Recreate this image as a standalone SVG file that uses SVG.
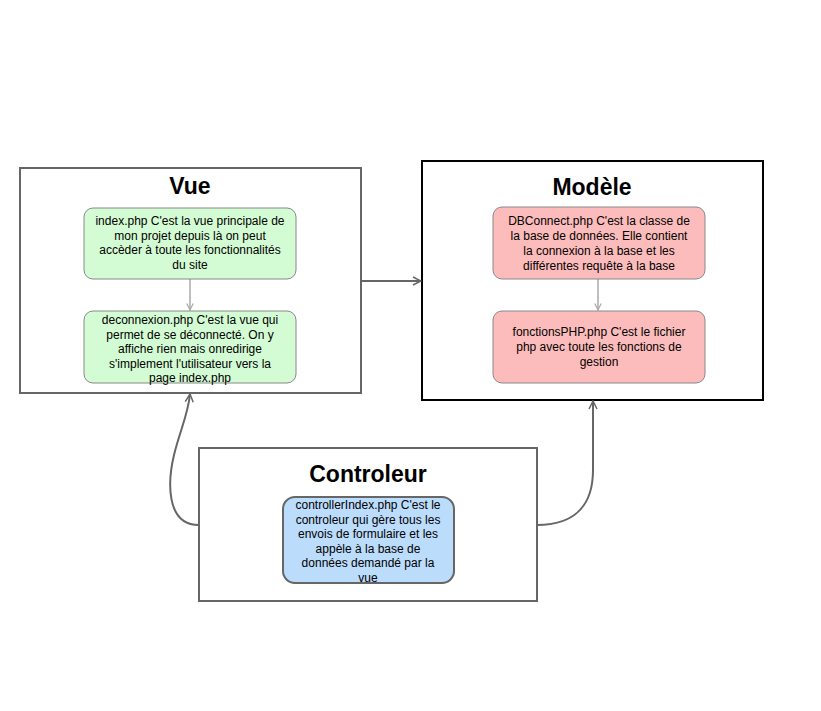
<svg xmlns="http://www.w3.org/2000/svg" width="821" height="711" viewBox="0 0 821 711">
<defs>
<style>
.title{font-family:"Liberation Sans",Arial,sans-serif;font-weight:bold;font-size:23px;fill:#000;text-anchor:middle}
.t{font-family:"Liberation Sans",Arial,sans-serif;font-size:12px;fill:#000;text-anchor:middle}
.frame{fill:#fff;stroke:#666;stroke-width:2}
.green{fill:#d4fcd4;stroke:#888;stroke-width:1}
.red{fill:#fcbcbc;stroke:#888;stroke-width:1}
.blue{fill:#bcdcfc;stroke:#666;stroke-width:2}
.inner{fill:none;stroke:#aaa;stroke-width:1.5}
.outer{fill:none;stroke:#666;stroke-width:2}
</style>
<marker id="ah" viewBox="0 0 10 10" refX="9" refY="5" markerWidth="10" markerHeight="10" markerUnits="userSpaceOnUse" orient="auto">
<path d="M1,1 L9,5 L1,9" fill="none" stroke="#666" stroke-width="1.5"/>
</marker>
<marker id="ahl" viewBox="0 0 10 10" refX="9" refY="5" markerWidth="8" markerHeight="8" markerUnits="userSpaceOnUse" orient="auto">
<path d="M1,1 L9,5 L1,9" fill="none" stroke="#aaa" stroke-width="1.5"/>
</marker>
</defs>
<rect width="821" height="711" fill="#fff"/>
<g id="vue">
<rect class="frame" x="20" y="168" width="341" height="225"/>
<text class="title" x="190" y="194">Vue</text>
</g>
<g id="modele">
<rect x="422" y="161" width="341" height="239" fill="#fff" stroke="#000" stroke-width="2"/>
<text class="title" x="592" y="195">Modèle</text>
</g>
<g id="controleur">
<rect class="frame" x="199" y="448" width="338" height="153"/>
<text class="title" x="368" y="482">Controleur</text>
</g>
<g id="connectors">
<line class="inner" x1="190" y1="279" x2="190" y2="310" marker-end="url(#ahl)"/>
<line class="inner" x1="598" y1="279" x2="598" y2="310" marker-end="url(#ahl)"/>
<line class="outer" x1="361" y1="281" x2="421" y2="281" marker-end="url(#ah)"/>
<path class="outer" d="M199,525 C165,525 168,480 174,455 C180,430 188,415 190,394" marker-end="url(#ah)"/>
<path class="outer" d="M537,525 C575,525 593,505 593,470 L593,401" marker-end="url(#ah)"/>
</g>
<g id="index">
<rect class="green" x="84" y="208" width="212" height="71" rx="9"/>
<text class="t" x="190"><tspan x="190" y="225">index.php C'est la vue principale de</tspan><tspan x="190" y="239.5">mon projet depuis là on peut</tspan><tspan x="190" y="254">accèder à toute les fonctionnalités</tspan><tspan x="190" y="268.5">du site</tspan></text>
</g>
<g id="deconnexion">
<rect class="green" x="84" y="311" width="212" height="72" rx="9"/>
<text class="t" x="190"><tspan x="190" y="324">deconnexion.php C'est la vue qui</tspan><tspan x="190" y="338.5">permet de se déconnecté. On y</tspan><tspan x="190" y="353">affiche rien mais onredirige</tspan><tspan x="190" y="367.5">s'implement l'utilisateur vers la</tspan><tspan x="190" y="382">page index.php</tspan></text>
</g>
<g id="dbconnect">
<rect class="red" x="493" y="207" width="212" height="72" rx="9"/>
<text class="t" x="599"><tspan x="599" y="225">DBConnect.php C'est la classe de</tspan><tspan x="599" y="240">la base de données. Elle contient</tspan><tspan x="599" y="255">la connexion à la base et les</tspan><tspan x="599" y="270">différentes requête à la base</tspan></text>
</g>
<g id="fonctions">
<rect class="red" x="493" y="311" width="212" height="72" rx="9"/>
<text class="t" x="599"><tspan x="599" y="336">fonctionsPHP.php C'est le fichier</tspan><tspan x="599" y="351">php avec toute les fonctions de</tspan><tspan x="599" y="366">gestion</tspan></text>
</g>
<g id="controllerIndex">
<rect class="blue" x="283" y="497" width="171" height="86" rx="12"/>
<text class="t" x="368"><tspan x="368" y="509">controllerIndex.php C'est le</tspan><tspan x="368" y="523.5">controleur qui gère tous les</tspan><tspan x="368" y="538">envois de formulaire et les</tspan><tspan x="368" y="552.5">appèle à la base de</tspan><tspan x="368" y="567">données demandé par la</tspan><tspan x="368" y="581.5">vue</tspan></text>
</g>
</svg>
